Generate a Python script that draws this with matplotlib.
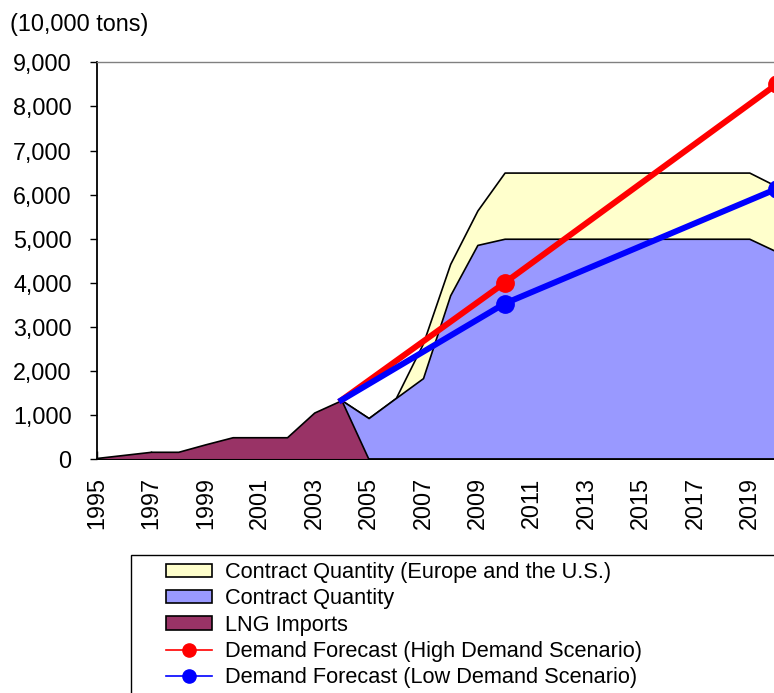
import numpy as np
import matplotlib.pyplot as plt
from matplotlib.lines import Line2D
from matplotlib.patches import Patch, Rectangle
from matplotlib.ticker import FuncFormatter

plt.rcParams['font.family'] = ['Liberation Sans', 'DejaVu Sans']

# LNG imports (actual)
years_lng = np.arange(1995, 2006)
lng_imports = [30, 100, 170, 170, 340, 500, 500, 500, 1060, 1340, 0]

# contract quantities 2004-2020
years_contract = np.arange(2004, 2021)
contract_eu_us = [1340, 935, 1390, 2630, 4430, 5640, 6500, 6500, 6500, 6500,
                  6500, 6500, 6500, 6500, 6500, 6500, 6190]
contract = [1340, 935, 1390, 1840, 3720, 4860, 5000, 5000, 5000, 5000,
            5000, 5000, 5000, 5000, 5000, 5000, 4710]

# demand forecasts
years_fc = [2004, 2010, 2020]
fc_high = [1340, 4000, 8500]
fc_low = [1340, 3530, 6130]

labels = ['Contract Quantity (Europe and the U.S.)', 'Contract Quantity',
          'LNG Imports', 'Demand Forecast (High Demand Scenario)',
          'Demand Forecast (Low Demand Scenario)']

c_yellow = '#FFFFCC'
c_blue = '#9999FF'
c_maroon = '#993366'

fig = plt.figure(figsize=(7.74, 6.93), dpi=100)
ax = fig.add_axes([96.7 / 774, (693 - 459.3) / 693, (776.5 - 96.7) / 774, (459.3 - 62.3) / 693])

ax.fill_between(years_contract, 0, contract_eu_us, facecolor=c_yellow, edgecolor='black', lw=1.2, zorder=1)
ax.fill_between(years_contract, 0, contract, facecolor=c_blue, edgecolor='black', lw=1.2, zorder=2)
ax.fill_between(years_lng, 0, lng_imports, facecolor=c_maroon, edgecolor='black', lw=1.2, zorder=3)

ax.plot(years_fc, fc_high, color='#FF0000', lw=4.3, marker='o', markersize=12.5,
        markevery=[1, 2], zorder=5, clip_on=False)
ax.plot(years_fc, fc_low, color='#0000FF', lw=4.3, marker='o', markersize=12.5,
        markevery=[1, 2], zorder=5, clip_on=False)

ax.set_xlim(1995, 2020)
ax.set_ylim(0, 9000)
ax.set_yticks(np.arange(0, 9001, 1000))
ax.yaxis.set_major_formatter(FuncFormatter(lambda v, p: f'{int(v):,}'))
ax.set_xticks(np.arange(1995, 2020, 2))
ax.set_xticklabels([str(y) for y in range(1995, 2020, 2)], rotation=90)
ax.tick_params(axis='y', direction='out', length=5, width=1, labelsize=16.8, pad=13)
ax.tick_params(axis='x', direction='in', length=6, width=1, labelsize=16.8, pad=13)

ax.spines['left'].set_linewidth(1.3)
ax.spines['bottom'].set_linewidth(1.3)
ax.spines['top'].set_color('#808080')
ax.spines['top'].set_linewidth(1)
ax.spines['right'].set_color('#808080')
ax.set_facecolor('white')

fig.text(10 / 774, 1 - 25 / 693, '(10,000 tons)', fontsize=16.8, va='center', ha='left')

# legend box (runs off the figure like the original)
fig.patches.append(Rectangle((131 / 774, -0.2), 1.0, 0.2 + (693 - 555) / 693,
                             transform=fig.transFigure, facecolor='white',
                             edgecolor='black', lw=1))

handles = [Patch(facecolor=c_yellow, edgecolor='black', lw=1.2),
           Patch(facecolor=c_blue, edgecolor='black', lw=1.2),
           Patch(facecolor=c_maroon, edgecolor='black', lw=1.2),
           Line2D([], [], color='#FF0000', lw=1.2, marker='o', markersize=9.5),
           Line2D([], [], color='#0000FF', lw=1.2, marker='o', markersize=9.5)]
fig.legend(handles, labels, loc='upper left', bbox_to_anchor=(166 / 774, 1 - 562 / 693),
           frameon=False, fontsize=15.7, borderpad=0, borderaxespad=0,
           handlelength=2.1, handleheight=0.55, handletextpad=0.62, labelspacing=0.245)

fig.savefig('out.png', dpi=100)
